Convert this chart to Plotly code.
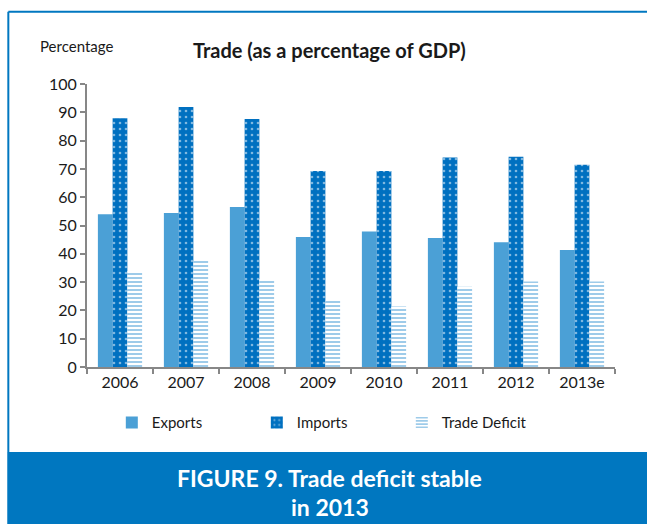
import plotly.graph_objects as go

# Trade as a percentage of GDP
years = ["2006", "2007", "2008", "2009", "2010", "2011", "2012", "2013e"]
exports = [54.0, 54.4, 56.5, 45.9, 47.9, 45.6, 44.1, 41.3]
imports = [87.9, 91.9, 87.6, 69.3, 69.3, 74.0, 74.3, 71.5]
trade_deficit = [33.9, 37.5, 31.1, 23.4, 21.4, 28.4, 30.2, 30.2]
y_ticks = [0, 10, 20, 30, 40, 50, 60, 70, 80, 90, 100]

FONT = "Lato"
DARK = "#1a1a1a"
BLUE = "#0077C0"

fig = go.Figure()
fig.add_trace(go.Bar(
    x=years, y=exports, name="Exports",
    marker=dict(color="#4BA0D6", line=dict(width=0)),
))
fig.add_trace(go.Bar(
    x=years, y=imports, name="Imports",
    marker=dict(color="#0070C0", line=dict(width=0),
                pattern=dict(shape=".", fgcolor="white", size=6, solidity=0.15)),
))
fig.add_trace(go.Bar(
    x=years, y=trade_deficit, name="Trade Deficit",
    marker=dict(color="white", line=dict(width=0),
                pattern=dict(shape="-", fgcolor="#3E97D3", bgcolor="white",
                             size=4, solidity=0.5, fillmode="overlay")),
))

fig.update_layout(
    width=647, height=524,
    margin=dict(l=87, r=32, t=84, b=157),
    paper_bgcolor="white", plot_bgcolor="white",
    barmode="group", bargap=0.33, bargroupgap=0,
    font=dict(family=FONT, color=DARK, size=15),
    showlegend=True,
    legend=dict(orientation="h", x=0.047, y=-0.197, xanchor="left", yanchor="middle",
                entrywidth=100, entrywidthmode="pixels",
                font=dict(family=FONT, size=15, color=DARK),
                itemwidth=30, bgcolor="rgba(0,0,0,0)"),
    xaxis=dict(showline=True, linecolor="#878787", linewidth=2,
               ticks="outside", tickson="boundaries", ticklen=5,
               tickcolor="#878787", tickwidth=2,
               tickfont=dict(family=FONT, size=16, color=DARK),
               showgrid=False),
    yaxis=dict(range=[0, 100], tickvals=y_ticks, showline=True,
               linecolor="#878787", linewidth=2, ticks="outside", ticklen=5,
               tickcolor="#878787", tickwidth=2, showgrid=False, zeroline=False,
               tickfont=dict(family=FONT, size=16, color=DARK)),
    shapes=[
        # blue frame (top and left edges)
        dict(type="line", xref="paper", yref="paper", x0=-0.149, x1=1.1,
             y0=1.255, y1=1.255, line=dict(color=BLUE, width=2)),
        dict(type="line", xref="paper", yref="paper", x0=-0.149, x1=-0.149,
             y0=1.255, y1=-0.56, line=dict(color=BLUE, width=2)),
        # caption banner
        dict(type="rect", xref="paper", yref="paper", x0=-0.15, x1=1.1,
             y0=-0.555, y1=-0.3, fillcolor=BLUE, line=dict(width=0), layer="below"),
    ],
    annotations=[
        dict(text="<b>Trade (as a percentage of GDP)</b>", xref="paper", yref="paper",
             x=0.46, y=1.12, xanchor="center", yanchor="middle", showarrow=False,
             font=dict(family=FONT, size=20, color=DARK)),
        dict(text="Percentage", xref="paper", yref="paper",
             x=-0.093, y=1.135, xanchor="left", yanchor="middle", showarrow=False,
             font=dict(family=FONT, size=15, color=DARK)),
        dict(text="<b>FIGURE 9. Trade deficit stable</b>",
             xref="paper", yref="paper", x=0.46, y=-0.392,
             xanchor="center", yanchor="middle", showarrow=False,
             font=dict(family=FONT, size=23, color="white")),
        dict(text="<b>in 2013</b>",
             xref="paper", yref="paper", x=0.46, y=-0.495,
             xanchor="center", yanchor="middle", showarrow=False,
             font=dict(family=FONT, size=23, color="white")),
    ],
)

fig.write_html("out.html")
